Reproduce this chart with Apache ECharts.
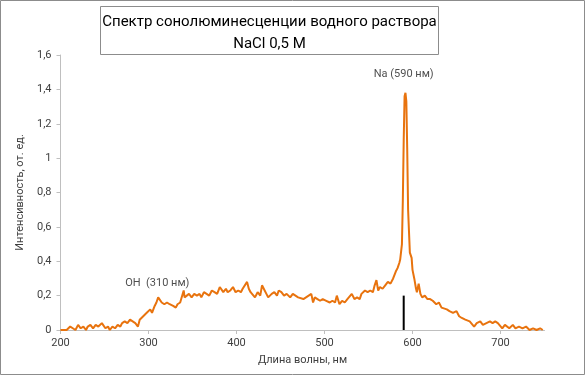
<!DOCTYPE html>
<html><head><meta charset="utf-8">
<script src="https://cdn.jsdelivr.net/npm/echarts@6/dist/echarts.min.js"></script>
<style>html,body{margin:0;padding:0;background:#fff}#c{width:585px;height:375px}</style>
</head><body><div id="c"></div>
<script>
const titleLines = ['Спектр сонолюминесценции водного раствора', 'NaCl 0,5 M'];
const xTicks = [200, 300, 400, 500, 600, 700];
const yTicks = [0, 0.2, 0.4, 0.6, 0.8, 1, 1.2, 1.4, 1.6];
const wavelength = [200,204,207,211,214,217,220,223,226,229,231,234,237,240,243,247,251,254,256,259,262,265,268,270,273,276,279,282,285,288,290,292,294,296,298,300,302,304,307,309,311,313,315,318,321,324,328,331,333,336,338,340,341,343,346,349,352,355,358,360,363,366,369,372,375,378,381,383,385,388,390,393,396,399,402,405,407,409,412,414,416,418,421,424,427,429,432,434,436,438,440,443,446,448,451,454,457,461,464,467,470,472,476,479,482,485,487,489,492,495,498,502,506,509,512,514,517,520,523,526,528,531,534,537,540,542,544,546,549,552,555,557,559,561,563,566,569,572,575,578,581,583,585,586,587,588,589,590,591,592,593,594,595,597,599,600,602,604,605,607,609,611,614,617,620,623,627,630,633,635,639,642,646,650,653,656,658,660,662,665,667,670,673,677,680,684,688,691,694,697,699,702,705,707,710,714,717,721,725,729,733,737,741,745,748];
const intensity = [0.00,0.00,0.00,0.02,0.01,0.00,0.03,0.01,0.02,0.00,0.02,0.03,0.01,0.03,0.02,0.04,0.01,0.02,0.00,0.02,0.01,0.03,0.02,0.04,0.05,0.04,0.06,0.05,0.04,0.02,0.06,0.05,0.08,0.07,0.10,0.09,0.12,0.10,0.14,0.16,0.19,0.18,0.16,0.15,0.16,0.15,0.14,0.13,0.15,0.16,0.17,0.23,0.19,0.18,0.21,0.19,0.21,0.20,0.21,0.19,0.22,0.21,0.20,0.23,0.22,0.21,0.25,0.26,0.22,0.24,0.22,0.23,0.25,0.22,0.23,0.22,0.24,0.25,0.28,0.24,0.22,0.21,0.19,0.22,0.20,0.26,0.23,0.21,0.19,0.20,0.21,0.22,0.20,0.23,0.22,0.20,0.21,0.19,0.21,0.20,0.19,0.20,0.18,0.19,0.20,0.21,0.16,0.19,0.18,0.17,0.18,0.17,0.16,0.17,0.16,0.20,0.15,0.17,0.16,0.18,0.17,0.21,0.18,0.19,0.18,0.21,0.20,0.23,0.22,0.23,0.22,0.26,0.29,0.23,0.25,0.24,0.26,0.28,0.27,0.30,0.34,0.36,0.39,0.41,0.42,0.50,0.75,1.10,1.36,1.38,1.33,1.05,0.70,0.45,0.42,0.35,0.30,0.24,0.22,0.27,0.21,0.19,0.20,0.18,0.18,0.17,0.15,0.16,0.13,0.14,0.12,0.11,0.10,0.11,0.08,0.07,0.07,0.06,0.06,0.05,0.06,0.02,0.04,0.05,0.03,0.04,0.05,0.04,0.05,0.04,0.05,0.01,0.03,0.02,0.01,0.03,0.01,0.02,0.01,0.02,0.00,0.01,0.00,0.01,0.00,0.00,0.01,0.00,0.02];
const naLine = [[590, 0], [590, 0.2]];
const annotations = [{text: 'Na (590 нм)', x: 590, y: 1.49}, {text: 'OH  (310 нм)', x: 310, y: 0.27}];

const chart = echarts.init(document.getElementById('c'), null, {renderer: 'canvas'});
const FONT = 'Roboto, "Open Sans", sans-serif';
const spectrum = wavelength.map((w, i) => [w, intensity[i]]);
const fmt = v => String(Math.round(v * 10) / 10).replace('.', ',');
chart.setOption({
  animation: false,
  backgroundColor: '#fff',
  grid: {left: 60.5, right: 40.5, top: 55, bottom: 45},
  xAxis: {
    type: 'value', min: 200, max: 750, interval: 100,
    splitLine: {show: false},
    axisLine: {lineStyle: {color: '#BFBFBF'}},
    axisTick: {show: true, length: 4, lineStyle: {color: '#BFBFBF'}, customValues: xTicks},
    axisLabel: {customValues: xTicks, color: '#404040', fontSize: 11, fontFamily: FONT, margin: 8},
    name: 'Длина волны, нм', nameLocation: 'middle', nameGap: 25,
    nameTextStyle: {color: '#404040', fontSize: 11, fontFamily: FONT}
  },
  yAxis: {
    type: 'value', min: 0, max: 1.6, interval: 0.2,
    splitLine: {show: false},
    axisLine: {show: true, lineStyle: {color: '#BFBFBF'}},
    axisTick: {show: true, length: 4, lineStyle: {color: '#BFBFBF'}},
    axisLabel: {formatter: fmt, color: '#404040', fontSize: 11, fontFamily: FONT, margin: 9},
    name: 'Интенсивность, от. ед.', nameLocation: 'middle', nameGap: 34, nameRotate: 90,
    nameTextStyle: {color: '#404040', fontSize: 11, fontFamily: FONT}
  },
  series: [
    {type: 'line', data: spectrum, showSymbol: false, symbol: 'none',
     lineStyle: {color: '#E8730E', width: 2}, z: 3},
    {type: 'line', data: naLine, showSymbol: false, symbol: 'none',
     lineStyle: {color: '#000', width: 2}, z: 4},
    {type: 'scatter', data: annotations.map(a => ({value: [a.x, a.y], name: a.text})),
     symbolSize: 0, silent: true,
     label: {show: true, position: 'inside', formatter: p => p.name, color: '#222', fontSize: 11, fontFamily: FONT}}
  ],
  graphic: [
    {type: 'rect', shape: {x: 0.5, y: 0.5, width: 584, height: 374}, style: {fill: 'none', stroke: '#8C8C8C', lineWidth: 1}, z: 0},
    {type: 'rect', shape: {x: 100.5, y: 6.5, width: 338, height: 48}, style: {fill: '#fff', stroke: '#8C8C8C', lineWidth: 1}, z: 10},
    {type: 'text', x: 269.5, y: 22, z: 11, style: {text: titleLines[0], fill: '#000', font: '15px ' + FONT, textAlign: 'center', textVerticalAlign: 'middle'}},
    {type: 'text', x: 269.5, y: 44, z: 11, style: {text: titleLines[1], fill: '#000', font: '15px ' + FONT, textAlign: 'center', textVerticalAlign: 'middle'}}
  ]
});
</script></body></html>
